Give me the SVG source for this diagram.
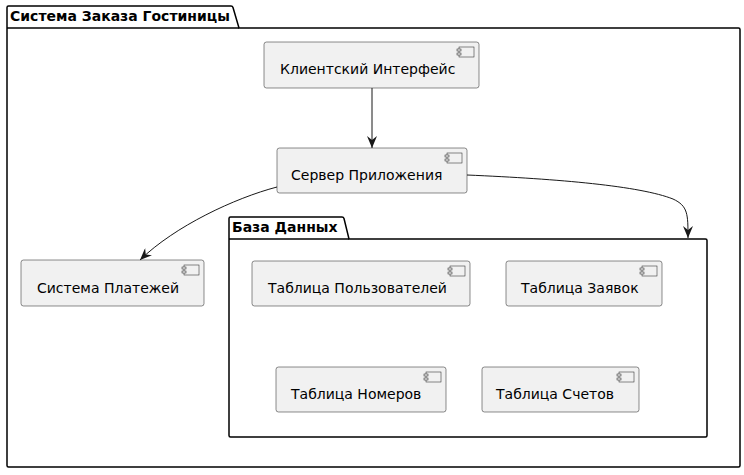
<svg xmlns="http://www.w3.org/2000/svg" width="744" height="475" viewBox="0 0 744 475">
<defs>
<style>
.pkg{fill:none;stroke:#000;stroke-width:1.5}
.ptxt{font-family:"DejaVu Sans",sans-serif;font-size:14px;font-weight:bold;fill:#000}
.node rect.b{fill:#F1F1F1;stroke:#181818;stroke-width:0.5}
.ic{fill:#F1F1F1;stroke:#181818;stroke-width:0.5}
.ntxt{font-family:"DejaVu Sans",sans-serif;font-size:14px;fill:#000}
.edge{fill:none;stroke:#181818;stroke-width:1}
</style>
<marker id="arr" viewBox="0 0 12 10" refX="12" refY="5" markerWidth="12" markerHeight="10" markerUnits="userSpaceOnUse" orient="auto">
<path d="M0,0 L12,5 L0,10 L4,5 Z" fill="#181818"/>
</marker>
<symbol id="icon" overflow="visible">
<rect class="ic" x="0" y="0" width="15" height="10"/>
<rect class="ic" x="-2" y="2" width="4" height="2"/>
<rect class="ic" x="-2" y="6" width="4" height="2"/>
</symbol>
</defs>
<g id="pkg-hotel">
<path class="pkg" d="M8.5,6 L231,6 Q232.5,6 233,7.5 L239,28 L738.5,28 Q740,28 740,29.5 L740,465.5 Q740,467 738.5,467 L8.5,467 Q7,467 7,465.5 L7,7.5 Q7,6 8.5,6 Z"/>
<line class="pkg" x1="7" y1="28" x2="239" y2="28"/>
<text class="ptxt" x="10" y="21">Система Заказа Гостиницы</text>
</g>
<g id="pkg-db">
<path class="pkg" d="M230.5,217 L342,217 Q343.5,217 344,218.5 L349,239 L705.5,239 Q707,239 707,240.5 L707,435.5 Q707,437 705.5,437 L230.5,437 Q229,437 229,435.5 L229,218.5 Q229,217 230.5,217 Z"/>
<line class="pkg" x1="229" y1="239" x2="349" y2="239"/>
<text class="ptxt" x="232" y="232">База Данных</text>
</g>
<g id="client" class="node">
<rect class="b" x="264" y="42" width="215" height="46" rx="2.5"/>
<use href="#icon" x="459" y="47"/>
<text class="ntxt" x="280" y="74">Клиентский Интерфейс</text>
</g>
<g id="server" class="node">
<rect class="b" x="277" y="148" width="190" height="45" rx="2.5"/>
<use href="#icon" x="447" y="153"/>
<text class="ntxt" x="291" y="180">Сервер Приложения</text>
</g>
<g id="payments" class="node">
<rect class="b" x="21" y="260" width="183" height="46" rx="2.5"/>
<use href="#icon" x="184" y="265"/>
<text class="ntxt" x="37" y="293">Система Платежей</text>
</g>
<g id="users" class="node">
<rect class="b" x="252" y="261" width="218" height="45" rx="2.5"/>
<use href="#icon" x="450" y="266"/>
<text class="ntxt" x="268" y="293">Таблица Пользователей</text>
</g>
<g id="orders" class="node">
<rect class="b" x="506" y="261" width="156" height="45" rx="2.5"/>
<use href="#icon" x="642" y="266"/>
<text class="ntxt" x="521" y="293">Таблица Заявок</text>
</g>
<g id="rooms" class="node">
<rect class="b" x="276" y="367" width="170" height="45" rx="2.5"/>
<use href="#icon" x="426" y="372"/>
<text class="ntxt" x="291" y="399">Таблица Номеров</text>
</g>
<g id="bills" class="node">
<rect class="b" x="482" y="367" width="157" height="45" rx="2.5"/>
<use href="#icon" x="619" y="372"/>
<text class="ntxt" x="496" y="399">Таблица Счетов</text>
</g>
<g id="connectors">
<path class="edge" marker-end="url(#arr)" d="M372,88 L372,148"/>
<path class="edge" marker-end="url(#arr)" d="M277,187 C235,198 175,226 140,260"/>
<path class="edge" marker-end="url(#arr)" d="M467,175 C560,179 640,186 673,199 C688,206 688,214 688,238"/>
</g>
</svg>
